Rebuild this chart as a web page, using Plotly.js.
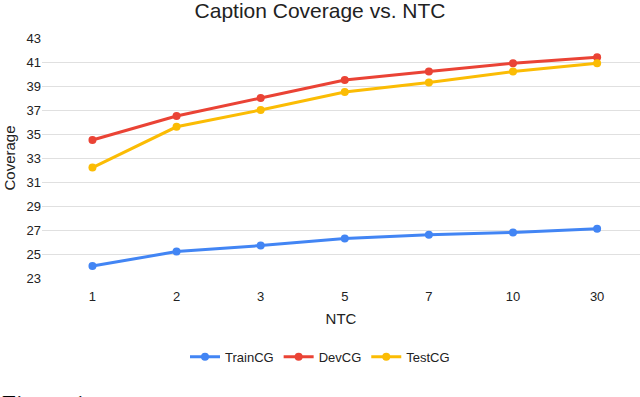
<!DOCTYPE html>
<html>
<head>
<meta charset="utf-8">
<script src="https://cdn.plot.ly/plotly-3.0.1.min.js"></script>
<style>
html,body{margin:0;padding:0;background:#fff;}
#chart{width:640px;height:397px;}
</style>
</head>
<body>
<div id="chart"></div>
<script>
const categories = ["1", "2", "3", "5", "7", "10", "30"];
const trainCG = [24.0, 25.2, 25.7, 26.3, 26.6, 26.8, 27.1];
const devCG = [34.5, 36.5, 38.0, 39.5, 40.2, 40.9, 41.4];
const testCG = [32.2, 35.6, 37.0, 38.5, 39.3, 40.2, 40.9];
const yTicks = [23, 25, 27, 29, 31, 33, 35, 37, 39, 41, 43];

const FONT = "Liberation Sans, Arial, sans-serif";

function series(name, y, color) {
  return {
    type: "scatter",
    mode: "lines+markers",
    name: name,
    x: categories,
    y: y,
    line: {color: color, width: 3},
    marker: {color: color, size: 8},
    cliponaxis: false
  };
}

const data = [
  series("TrainCG", trainCG, "#4285F4"),
  series("DevCG", devCG, "#EA4335"),
  series("TestCG", testCG, "#FBBC04")
];

const layout = {
  width: 640,
  height: 397,
  paper_bgcolor: "#fff",
  plot_bgcolor: "#fff",
  margin: {l: 42, r: 0, t: 37.5, b: 118.5, pad: 0},
  font: {family: FONT, color: "#222", size: 13},
  title: {
    text: "Caption Coverage vs. NTC",
    font: {family: FONT, size: 21, color: "#222"},
    x: 0.5, xref: "container", xanchor: "center",
    y: 0.974, yref: "container", yanchor: "middle"
  },
  xaxis: {
    type: "category",
    range: [-0.6, 6.51],
    showgrid: false,
    zeroline: false,
    showline: false,
    ticks: "",
    ticklabelstandoff: 9,
    tickfont: {family: FONT, size: 13, color: "#222"},
    title: {text: "NTC", font: {family: FONT, size: 15, color: "#222"}, standoff: 10},
    automargin: false
  },
  yaxis: {
    range: [23, 43],
    tickvals: yTicks,
    ticktext: yTicks.map(String),
    showgrid: true,
    gridcolor: "#e0e0e0",
    gridwidth: 1,
    zeroline: false,
    showline: false,
    ticks: "",
    tickfont: {family: FONT, size: 13, color: "#222"},
    title: {text: "Coverage", font: {family: FONT, size: 15, color: "#222"}, standoff: 7},
    automargin: false
  },
  showlegend: true,
  legend: {
    orientation: "h",
    x: 0.5, xref: "container", xanchor: "center",
    y: 1 - 356.7 / 397, yref: "container", yanchor: "middle",
    font: {family: FONT, size: 13, color: "#222"},
    itemwidth: 30,
    traceorder: "normal"
  },
  annotations: [{
    text: "Figure 1:",
    xref: "paper", yref: "paper",
    x: -42 / 598, y: (278.5 - 406) / 241,
    xanchor: "left", yanchor: "middle",
    showarrow: false,
    font: {family: "Liberation Serif, Times New Roman, serif", size: 25, color: "#000"}
  }]
};

Plotly.newPlot("chart", data, layout, {displayModeBar: false, staticPlot: true});
</script>
</body>
</html>
